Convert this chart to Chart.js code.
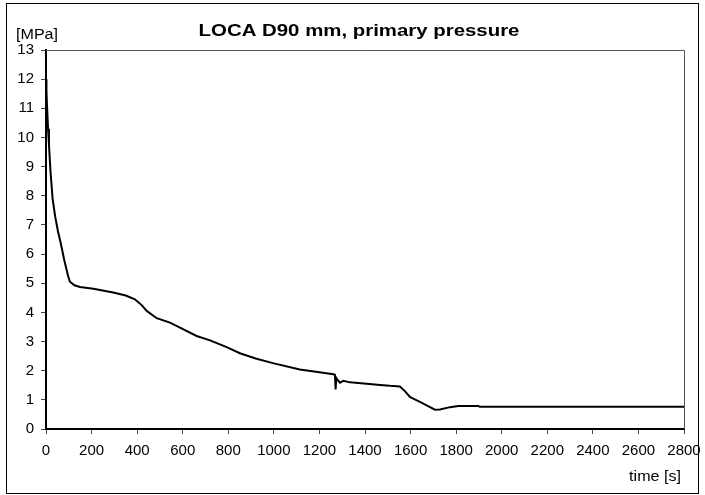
<!DOCTYPE html>
<html>
<head>
<meta charset="utf-8">
<script src="https://cdn.jsdelivr.net/npm/chart.js@4"></script>
<style>
  html, body { margin: 0; padding: 0; background: #fff; }
  #wrap { width: 705px; height: 495px; position: relative; }
</style>
</head>
<body>
<div id="wrap"><canvas id="pressureChart"></canvas></div>
<script>
// time [s] and primary pressure [MPa]
const timeSec = [0, 2, 5, 9, 13, 20, 29, 40, 52, 64, 80, 97, 105, 125, 149, 208, 295, 350, 390, 420, 442, 486, 544, 588, 661, 720, 793, 851, 920, 1000, 1114, 1200, 1261, 1268, 1271, 1274, 1278, 1290, 1305, 1334, 1407, 1466, 1510, 1553, 1575, 1597, 1605, 1641, 1707, 1729, 1773, 1810, 1897, 1904, 2200, 2500, 2800];
const pressureMPa = [12.0, 11.6, 11.0, 10.3, 9.75, 8.8, 7.9, 7.3, 6.8, 6.4, 5.8, 5.25, 5.05, 4.93, 4.87, 4.81, 4.68, 4.58, 4.45, 4.25, 4.05, 3.80, 3.65, 3.48, 3.19, 3.04, 2.81, 2.60, 2.42, 2.25, 2.04, 1.95, 1.88, 1.86, 1.36, 1.75, 1.70, 1.59, 1.65, 1.60, 1.55, 1.51, 1.48, 1.46, 1.30, 1.10, 1.07, 0.93, 0.66, 0.67, 0.75, 0.79, 0.79, 0.76, 0.76, 0.76, 0.76];

const xTicks = [0, 200, 400, 600, 800, 1000, 1200, 1400, 1600, 1800, 2000, 2200, 2400, 2600, 2800];
const yTicks = [0, 1, 2, 3, 4, 5, 6, 7, 8, 9, 10, 11, 12, 13];

const chartTitle = 'LOCA D90 mm, primary pressure';
const yUnit = '[MPa]';
const xUnit = 'time [s]';

const font = 'Liberation Sans, Arial, sans-serif';

// text stretched a bit horizontally, like the original
function wideText(ctx, text, x, y, sx) {
    ctx.save();
    ctx.translate(x, y);
    ctx.scale(sx, 1);
    ctx.fillText(text, 0, 0);
    ctx.restore();
}

// title, unit labels, plot frame and outer frame
const decorations = {
    id: 'decorations',
    afterDraw(chart) {
        const ctx = chart.ctx;
        const a = chart.chartArea;
        ctx.save();
        ctx.strokeStyle = '#000';
        ctx.lineWidth = 1;
        ctx.strokeRect(6.5, 3.5, 692, 490);
        ctx.strokeStyle = '#555';
        ctx.beginPath();
        ctx.moveTo(a.left, a.top + 0.5);
        ctx.lineTo(a.right + 0.5, a.top + 0.5);
        ctx.lineTo(a.right + 0.5, a.bottom);
        ctx.stroke();
        ctx.fillStyle = '#000';
        ctx.textBaseline = 'middle';
        ctx.font = 'bold 17px ' + font;
        ctx.textAlign = 'center';
        wideText(ctx, chartTitle, 359, 31, 1.2);
        ctx.font = '14px ' + font;
        ctx.textAlign = 'left';
        wideText(ctx, yUnit, 16, 35, 1.15);
        ctx.textAlign = 'right';
        wideText(ctx, xUnit, 681, 477, 1.15);
        ctx.restore();
    }
};

const ctx = document.getElementById('pressureChart').getContext('2d');
const pressureChart = new Chart(ctx, {
    type: 'line',
    data: {
        datasets: [{
            label: 'primary pressure',
            data: timeSec.map((t, i) => ({ x: t, y: pressureMPa[i] })),
            borderColor: '#000',
            borderWidth: 2,
            pointRadius: 0,
            tension: 0,
            fill: false
        }]
    },
    options: {
        responsive: true,
        maintainAspectRatio: false,
        animation: false,
        layout: { padding: { left: 0, top: 50, right: 21, bottom: 0 } },
        plugins: {
            legend: { display: false },
            title: { display: false },
            tooltip: { enabled: false }
        },
        scales: {
            x: {
                type: 'linear',
                min: 0,
                max: 2800,
                afterBuildTicks: scale => { scale.ticks = xTicks.map(v => ({ value: v })); },
                afterFit: scale => {
                    scale.height = 66;
                    scale.paddingLeft = 0;
                    scale.paddingRight = 0;
                },
                border: { color: '#000', width: 2 },
                grid: { drawOnChartArea: false, tickLength: 5, color: '#444' },
                ticks: {
                    color: '#000', font: { family: font, size: 15 }, padding: 8, maxRotation: 0,
                    callback: v => String(v)
                }
            },
            y: {
                min: 0,
                max: 13,
                afterBuildTicks: scale => { scale.ticks = yTicks.map(v => ({ value: v })); },
                afterFit: scale => {
                    scale.width = 46;
                    scale.paddingTop = 0;
                    scale.paddingBottom = 0;
                },
                border: { color: '#000', width: 2 },
                grid: { drawOnChartArea: false, tickLength: 5, color: '#444' },
                ticks: {
                    color: '#000', font: { family: font, size: 15 }, padding: 7,
                    callback: v => String(v)
                }
            }
        }
    },
    plugins: [decorations]
});
</script>
</body>
</html>
